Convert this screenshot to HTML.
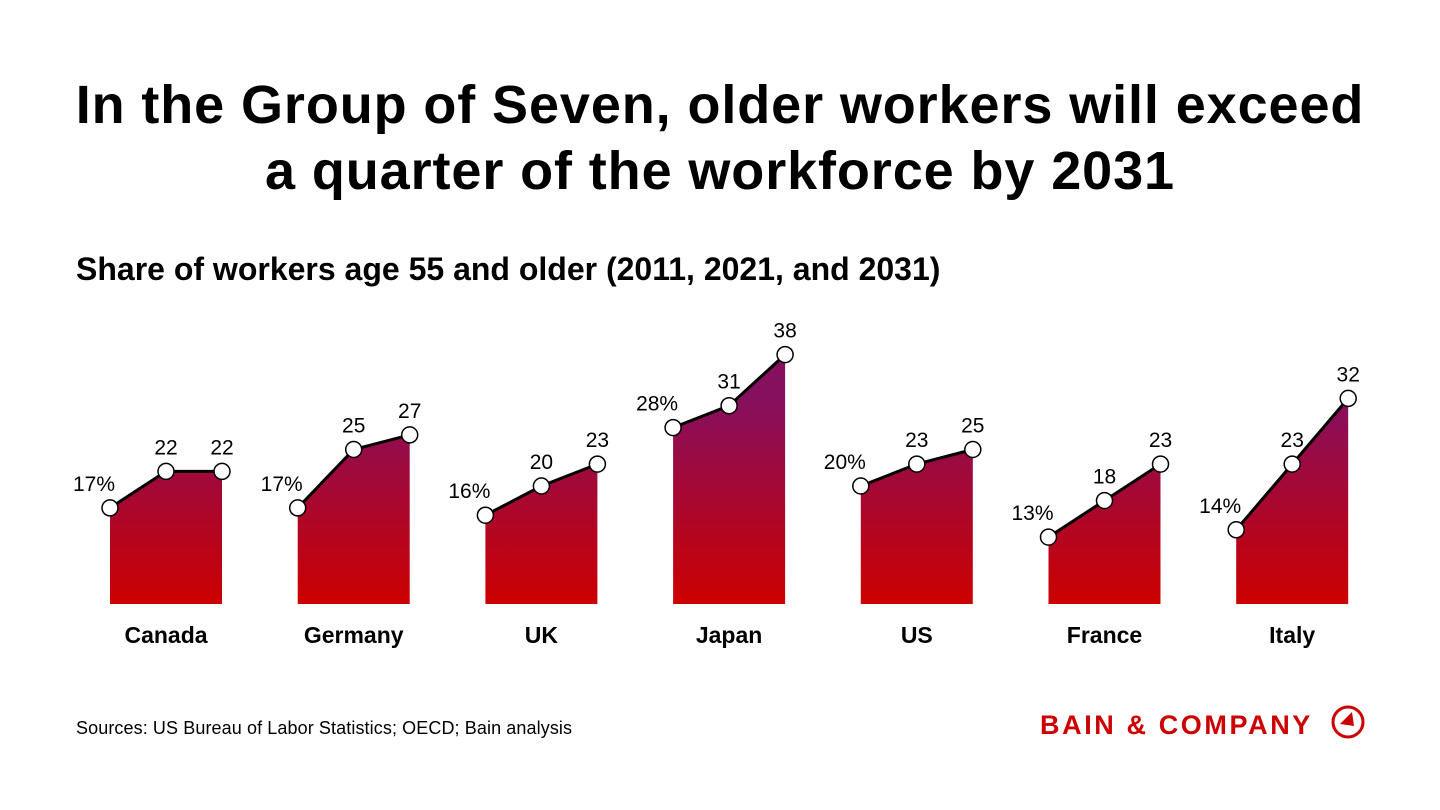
<!DOCTYPE html>
<html><head><meta charset="utf-8"><style>
body{margin:0;width:1440px;height:810px;background:#fff;overflow:hidden;font-family:"Liberation Sans",sans-serif}
#title{position:absolute;left:0;top:72px;width:1440px;text-align:center;font-size:54px;font-weight:bold;line-height:66px;color:#000;letter-spacing:0.9px}
#sub{position:absolute;left:76px;top:251px;font-size:32px;font-weight:bold;color:#000;letter-spacing:0px}
#src{position:absolute;left:76px;top:718px;font-size:18px;color:#000;letter-spacing:0.1px}
</style></head><body>
<div id="title">In the Group of Seven, older workers will exceed<br>a quarter of the workforce by 2031</div>
<div id="sub">Share of workers age 55 and older (2011, 2021, and 2031)</div>
<div id="src">Sources: US Bureau of Labor Statistics; OECD; Bain analysis</div>
<svg id="chart" width="1440" height="810" style="position:absolute;left:0;top:0">
<defs><linearGradient id="g" gradientUnits="userSpaceOnUse" x1="0" y1="400" x2="0" y2="604">
<stop offset="0" stop-color="#860f5e"/><stop offset="1" stop-color="#cc0000"/></linearGradient></defs>
<g id="marks"></g>
<g>
<text x="1040" y="734" font-size="27" fill="#cc0000" font-family="Liberation Sans" font-weight="bold" letter-spacing="2.6">BAIN &amp; COMPANY</text>
<circle cx="1348" cy="722" r="15" fill="none" stroke="#cc0000" stroke-width="3"/>
<polygon points="1340,724 1352,712 1354,726" fill="#cc0000"/>
</g>
</svg>
<script>
const countries=["Canada","Germany","UK","Japan","US","France","Italy"];
const v2011=[17,17,16,28,20,13,14];
const v2021=[22,25,20,31,23,18,23];
const v2031=[22,27,23,38,25,23,32];
const NS="http://www.w3.org/2000/svg";
const g=document.getElementById('marks');
const base=604;
function y(v){return 632-v*7.3;}
function gx(i){return 110+i*187.7;}
function mk(t,a){const e=document.createElementNS(NS,t);for(const k in a)e.setAttribute(k,a[k]);g.appendChild(e);return e;}
countries.forEach((c,i)=>{
  const vals=[v2011[i],v2021[i],v2031[i]];
  const xs=[gx(i),gx(i)+56,gx(i)+112];
  const ys=vals.map(y);
  const a=mk('polygon',{points:`${xs[0]},${base} ${xs[0]},${ys[0]} ${xs[1]},${ys[1]} ${xs[2]},${ys[2]} ${xs[2]},${base}`,fill:'url(#g)'});
  
  
  const l=mk('polyline',{points:xs.map((x,k)=>x+','+ys[k]).join(' '),fill:'none',stroke:'#000','stroke-width':3});
  
  
  xs.forEach((x,k)=>{
    const p=mk('circle',{cx:x,cy:ys[k],r:8,fill:'#fff',stroke:'#000','stroke-width':1.5});
    
    
    const t=mk('text',{x:k==0?x-16:x,y:ys[k]-17,'text-anchor':'middle','font-size':21,fill:'#000','font-family':'Liberation Sans'});
    t.textContent=vals[k]+(k==0?'%':'');
    
    
  });
  const cl=mk('text',{x:xs[1],y:643,'text-anchor':'middle','font-size':23,'font-weight':'bold',fill:'#000','font-family':'Liberation Sans'});
  cl.textContent=c;
  
  
});
</script>
</body></html>
